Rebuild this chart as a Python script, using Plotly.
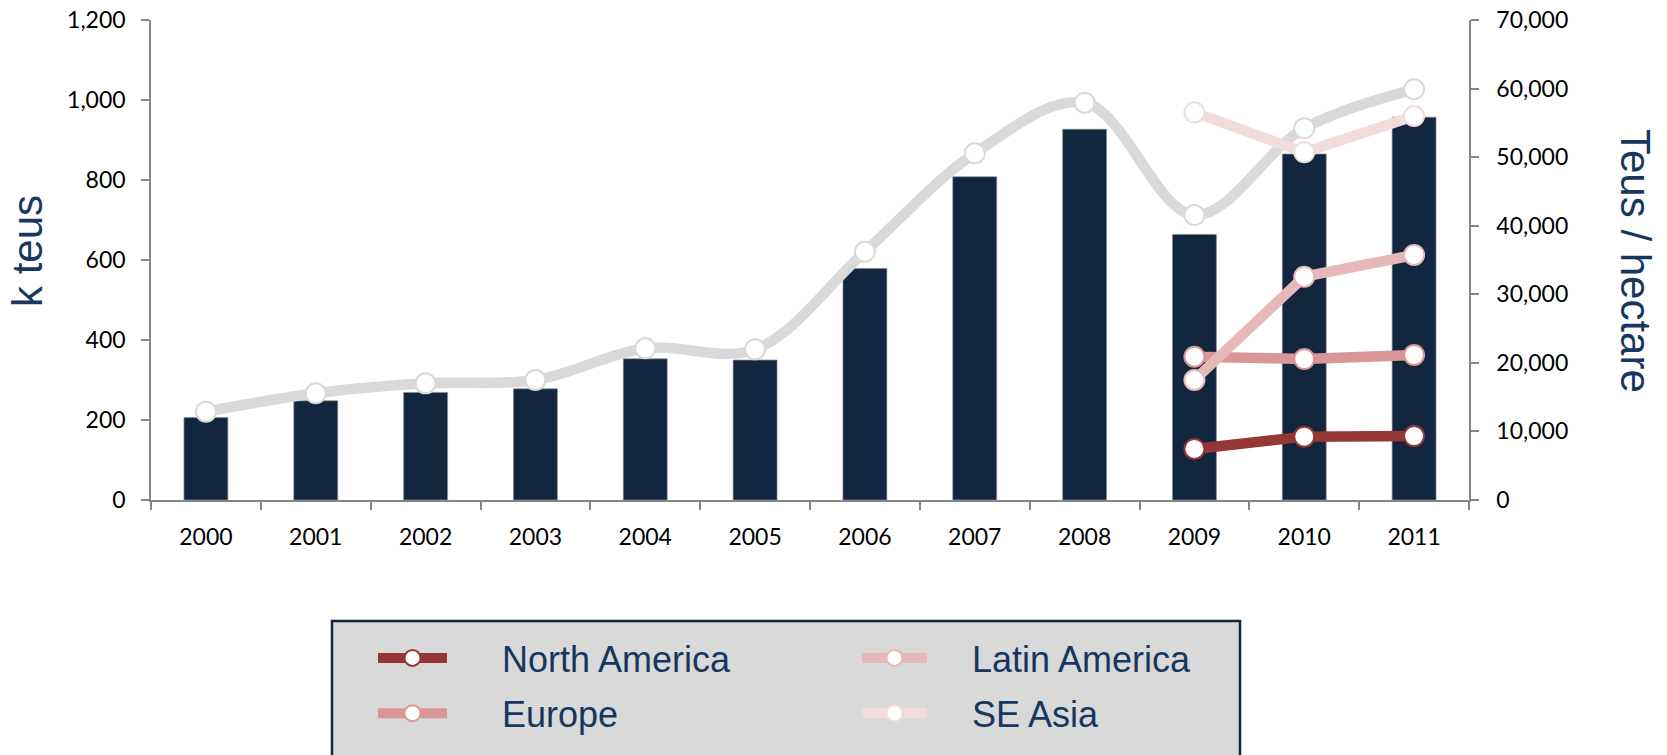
import plotly.graph_objects as go

# ---------------- data ----------------
years = ["2000", "2001", "2002", "2003", "2004", "2005",
         "2006", "2007", "2008", "2009", "2010", "2011"]
k_teus = [206, 248, 269, 278, 353, 350, 579, 808, 927, 664, 865, 957]
teus_per_hectare = [12880, 15560, 17010, 17500, 22120, 21970,
                    36210, 50560, 57940, 41560, 54200, 59890]

region_years = ["2009", "2010", "2011"]
north_america = [7440, 9240, 9330]
europe = [20900, 20560, 21150]
latin_america = [17500, 32570, 35730]
se_asia = [56530, 50700, 56000]

left_ticks = [0, 200, 400, 600, 800, 1000, 1200]
right_ticks = [0, 10000, 20000, 30000, 40000, 50000, 60000, 70000]

# ---------------- styles ----------------
NAVY = "#12263F"
TEXT_NAVY = "#17375E"
AXIS_GREY = "#868686"
TICK_FONT = dict(family="Lato, Carlito, sans-serif", size=23, color="#000000")
LINE_W = 10.5
MARK_SIZE = 20
NBSP = "\u00a0"

W, H = 1667, 755
# plot area in px: x 151..1469, y 20..500
PX0, PX1, PY0, PY1 = 151, 1469, 20, 500
L, T, R, B = PX0, PY0, W - PX1, H - PY1
PW, PH = PX1 - PX0, PY1 - PY0


def px_x(px):
    return (px - PX0) / PW


def px_y(py):
    return (PY1 - py) / PH


fig = go.Figure()

fig.add_trace(go.Bar(
    x=years, y=k_teus, name="k teus", yaxis="y",
    marker=dict(color=NAVY, line=dict(color="#8c8c8c", width=0.7)),
    showlegend=False,
))

fig.add_trace(go.Scatter(
    x=years, y=teus_per_hectare, name="Teus / hectare", yaxis="y2",
    mode="lines+markers",
    line=dict(color="#D9D9D9", width=LINE_W, shape="spline", smoothing=1.0),
    marker=dict(size=MARK_SIZE, color="white", line=dict(color="#D9D9D9", width=2)),
    showlegend=False,
))

series = [
    ("North America", north_america, "#953735", "legend", 5),
    ("Europe", europe, "#D99694", "legend", 5),
    ("Latin America", latin_america, "#E6B9B8", "legend2", 4),
    ("SE Asia", se_asia, "#F2DCDB", "legend2", 4),
]
for name, vals, col, lg, pad in series:
    fig.add_trace(go.Scatter(
        x=region_years, y=vals, name=NBSP * pad + name, yaxis="y2",
        mode="lines+markers", legend=lg, legendgroup=name,
        line=dict(color=col, width=LINE_W),
        marker=dict(size=MARK_SIZE, color="white", line=dict(color=col, width=2)),
    ))

legend_font = dict(family="Liberation Sans, Arial, sans-serif", size=36, color=TEXT_NAVY)

fig.update_layout(
    width=W, height=H,
    margin=dict(l=L, r=R, t=T, b=B, pad=0, autoexpand=False),
    paper_bgcolor="white", plot_bgcolor="white",
    bargap=0.6,
    xaxis=dict(
        type="category", range=[-0.5, 11.5], autorange=False,
        showgrid=False, zeroline=False,
        showline=True, linecolor=AXIS_GREY, linewidth=1.5,
        ticks="outside", tickson="boundaries", ticklen=8,
        tickcolor=AXIS_GREY, tickwidth=1.5,
        tickfont=TICK_FONT, ticklabelstandoff=16,
    ),
    yaxis=dict(
        range=[0, 1200], tickvals=left_ticks, tickformat=",",
        showgrid=False, zeroline=False,
        showline=True, linecolor=AXIS_GREY, linewidth=1.5,
        ticks="outside", ticklen=8, tickcolor=AXIS_GREY, tickwidth=1.5,
        tickfont=TICK_FONT, ticklabelstandoff=11, ticklabeloverflow="allow",
    ),
    yaxis2=dict(
        range=[0, 70000], tickvals=right_ticks, tickformat=",",
        overlaying="y", side="right", anchor="x",
        showgrid=False, zeroline=False,
        showline=True, linecolor=AXIS_GREY, linewidth=1.5,
        ticks="outside", ticklen=8, tickcolor=AXIS_GREY, tickwidth=1.5,
        tickfont=TICK_FONT, ticklabelstandoff=13, ticklabeloverflow="allow",
    ),
    legend=dict(
        x=px_x(373), y=px_y(628), xanchor="left", yanchor="top",
        xref="paper", yref="paper",
        orientation="v", traceorder="grouped", tracegroupgap=5.5,
        itemwidth=69, bgcolor="rgba(0,0,0,0)", borderwidth=0,
        font=legend_font,
    ),
    legend2=dict(
        x=px_x(857), y=px_y(628), xanchor="left", yanchor="top",
        xref="paper", yref="paper",
        orientation="v", traceorder="grouped", tracegroupgap=5.5,
        itemwidth=65, bgcolor="rgba(0,0,0,0)", borderwidth=0,
        font=legend_font,
    ),
    shapes=[dict(
        type="rect", xref="paper", yref="paper",
        x0=px_x(332), x1=px_x(1240), y0=px_y(621), y1=px_y(790),
        fillcolor="#D9D9D9", line=dict(color=NAVY, width=2.5), layer="below",
    )],
    annotations=[
        dict(text="k teus", textangle=-90, xref="paper", yref="paper",
             x=px_x(28), y=px_y(251), xanchor="center", yanchor="middle",
             showarrow=False,
             font=dict(family="Liberation Sans, Arial, sans-serif", size=42, color=TEXT_NAVY)),
        dict(text="Teus / hectare", textangle=90, xref="paper", yref="paper",
             x=px_x(1636), y=px_y(261), xanchor="center", yanchor="middle",
             showarrow=False,
             font=dict(family="Liberation Sans, Arial, sans-serif", size=42, color=TEXT_NAVY)),
    ],
    showlegend=True,
)

# remove the browser's default 8px page margin so the figure fills the window
fig.write_html("out.html", config={"displayModeBar": False},
               post_script="document.body.style.margin='0px';")
